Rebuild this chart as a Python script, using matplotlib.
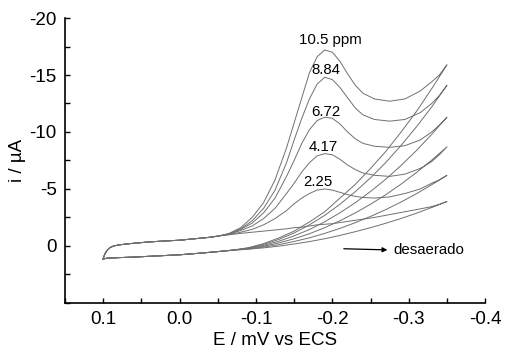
import matplotlib
matplotlib.use("Agg")
import matplotlib.pyplot as plt
from matplotlib.ticker import MultipleLocator

plt.rcParams['font.family'] = ['Liberation Sans', 'DejaVu Sans']

# Shared low-potential part of the forward (upper) sweep
base_fwd_E = [0.1, 0.098, 0.095, 0.091, 0.086, 0.078, 0.065, 0.04, 0.02, 0.0, -0.02, -0.04, -0.052]
base_fwd_i = [1.15, 0.75, 0.4, 0.15, 0.0, -0.1, -0.2, -0.35, -0.43, -0.5, -0.63, -0.76, -0.88]
# Shared low-potential part of the reverse (lower) sweep
base_rev_E = [-0.05, -0.03, 0.0, 0.03, 0.06, 0.08, 0.095, 0.1]
base_rev_i = [0.5, 0.62, 0.78, 0.88, 0.98, 1.03, 1.08, 1.15]

# Forward sweeps (beyond -0.06 V)
fwd_E = [-0.065, -0.08, -0.095, -0.11, -0.125, -0.14, -0.15, -0.16, -0.17, -0.18, -0.19, -0.2,
         -0.21, -0.22, -0.23, -0.24, -0.255, -0.275, -0.295, -0.315, -0.33, -0.34, -0.35]
fwd_10_5 = [-1.1, -1.6, -2.5, -3.8, -5.8, -8.6, -10.8, -13.0, -15.2, -16.6, -17.2, -17.0,
            -16.2, -15.1, -14.1, -13.4, -12.9, -12.7, -12.9, -13.6, -14.4, -15.0, -15.9]
fwd_8_84 = [-1.08, -1.5, -2.2, -3.3, -4.9, -7.3, -9.3, -11.2, -12.9, -14.2, -14.8, -14.6,
            -13.9, -13.0, -12.1, -11.5, -11.1, -10.95, -11.1, -11.7, -12.5, -13.2, -14.1]
fwd_6_72 = [-1.05, -1.45, -2.0, -2.9, -4.2, -6.1, -7.5, -9.0, -10.2, -11.0, -11.3, -11.2,
            -10.7, -10.0, -9.4, -9.0, -8.75, -8.65, -8.8, -9.3, -10.0, -10.6, -11.3]
fwd_4_17 = [-1.03, -1.35, -1.75, -2.4, -3.3, -4.6, -5.5, -6.5, -7.3, -7.9, -8.1, -8.0,
            -7.6, -7.1, -6.7, -6.4, -6.2, -6.1, -6.3, -6.8, -7.4, -8.0, -8.7]
fwd_2_25 = [-1.0, -1.2, -1.45, -1.85, -2.4, -3.1, -3.7, -4.2, -4.6, -4.9, -5.0, -4.9,
            -4.7, -4.5, -4.35, -4.25, -4.2, -4.3, -4.6, -5.0, -5.5, -5.8, -6.2]
fwd_desa = [-0.98, -1.1, -1.2, -1.3, -1.4, -1.5, -1.6, -1.65, -1.75, -1.85, -1.9, -1.95,
            -2.05, -2.15, -2.25, -2.35, -2.5, -2.75, -3.0, -3.25, -3.45, -3.65, -3.9]

# Reverse sweeps (from -0.35 V back to -0.07 V)
rev_E = [-0.35, -0.33, -0.31, -0.29, -0.27, -0.25, -0.23, -0.21, -0.19, -0.17,
         -0.15, -0.13, -0.11, -0.09, -0.07]
rev_10_5 = [-15.9, -13.8, -11.8, -10.0, -8.3, -6.8, -5.4, -4.2, -3.0, -2.1,
            -1.3, -0.7, -0.2, 0.16, 0.36]
rev_8_84 = [-14.1, -12.2, -10.45, -8.83, -7.33, -5.98, -4.76, -3.66, -2.68, -1.85,
            -1.14, -0.57, -0.13, 0.18, 0.37]
rev_6_72 = [-11.3, -9.79, -8.37, -7.07, -5.86, -4.78, -3.79, -2.91, -2.12, -1.44,
            -0.88, -0.41, -0.05, 0.21, 0.37]
rev_4_17 = [-8.7, -7.53, -6.44, -5.43, -4.50, -3.66, -2.90, -2.21, -1.60, -1.07,
            -0.63, -0.26, 0.03, 0.24, 0.37]
rev_2_25 = [-6.2, -5.37, -4.58, -3.86, -3.19, -2.59, -2.04, -1.54, -1.10, -0.71,
            -0.39, -0.11, 0.10, 0.27, 0.37]
rev_desa = [-3.9, -3.37, -2.87, -2.41, -1.99, -1.60, -1.25, -0.92, -0.63, -0.38,
            -0.17, 0.02, 0.17, 0.29, 0.38]

fwd_series = [fwd_10_5, fwd_8_84, fwd_6_72, fwd_4_17, fwd_2_25, fwd_desa]
rev_series = [rev_10_5, rev_8_84, rev_6_72, rev_4_17, rev_2_25, rev_desa]

labels = ["10.5 ppm", "8.84", "6.72", "4.17", "2.25"]
label_E = [-0.198, -0.191, -0.191, -0.188, -0.181]
label_i = [-18.1, -15.4, -11.75, -8.7, -5.6]

fig = plt.figure(figsize=(5.07, 3.61), dpi=100)
ax = fig.add_axes([0.128, 0.161, 0.829, 0.789])

line_color = "#707070"
for f, r in zip(fwd_series, rev_series):
    E = base_fwd_E + fwd_E + rev_E + base_rev_E
    I = base_fwd_i + f + r + base_rev_i
    ax.plot(E, I, color=line_color, lw=0.7)

for t, xe, yi in zip(labels, label_E, label_i):
    ax.text(xe, yi, t, ha="center", va="center", fontsize=10.8, color="black")

ax.annotate("", xy=(-0.272, 0.35), xytext=(-0.215, 0.25),
            arrowprops=dict(arrowstyle="-|>", color="black", lw=0.9,
                            mutation_scale=7, shrinkA=0, shrinkB=0))
ax.text(-0.28, 0.4, "desaerado", ha="left", va="center", fontsize=10.8,
        color="black", clip_on=False)

ax.set_xlim(0.15, -0.4)
ax.set_ylim(5, -20)
ax.xaxis.set_minor_locator(MultipleLocator(0.05))
ax.yaxis.set_minor_locator(MultipleLocator(2.5))
ax.set_yticks([-20, -15, -10, -5, 0])
ax.set_xticks([0.1, 0.0, -0.1, -0.2, -0.3, -0.4])
ax.set_xticklabels(["0.1", "0.0", "-0.1", "-0.2", "-0.3", "-0.4"])
ax.set_yticklabels(["-20", "-15", "-10", "-5", "0"])
ax.tick_params(which="both", direction="in", width=1.0, labelsize=13.5, pad=6)
ax.tick_params(which="major", length=3.5)
ax.tick_params(which="minor", length=3.5)
for s in ["top", "right"]:
    ax.spines[s].set_visible(False)
for s in ["left", "bottom"]:
    ax.spines[s].set_linewidth(1.2)

ax.set_xlabel("E / mV vs ECS", fontsize=13.5, labelpad=3)
ax.set_ylabel("i / \u00b5A", fontsize=13.5, labelpad=2)

fig.savefig("out.png", dpi=100)
